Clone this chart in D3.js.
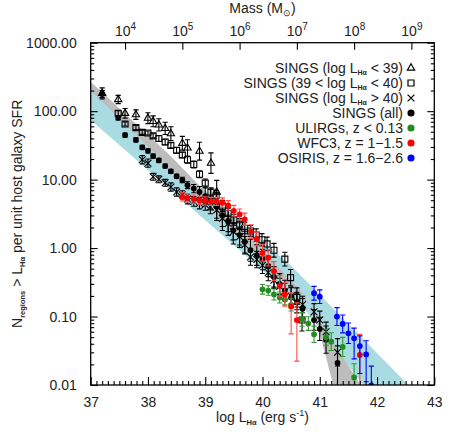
<!DOCTYPE html>
<html>
<head>
<meta charset="utf-8">
<script src="https://cdn.jsdelivr.net/npm/d3@7"></script>
<style>
  body { margin: 0; background: #fff; }
  svg text { font-family: "Liberation Sans", Arial, sans-serif; fill: #222; }
</style>
</head>
<body>
<svg width="458" height="432"></svg>
<script>
// data: [log L_Ha, N, err up (dex), err down (dex)]
const singsLow = [
  [37.20, 182, 0.08, 0.08], [37.48, 148, 0.06, 0.06], [37.60, 93, 0.07, 0.07],
  [37.79, 89, 0.07, 0.07], [38.00, 79, 0.08, 0.08], [38.09, 71, 0.08, 0.08],
  [38.19, 63, 0.09, 0.09], [38.30, 56, 0.09, 0.09], [38.40, 47, 0.1, 0.1],
  [38.60, 34, 0.1, 0.1], [38.69, 29, 0.12, 0.12], [38.90, 26, 0.13, 0.13],
  [39.10, 17.4, 0.15, 0.15], [39.20, 6.6, 0.17, 0.17]
];
const singsMid = [
  [37.48, 93, 0.04, 0.04], [37.60, 65, 0.03, 0.03], [37.79, 57.5, 0.03, 0.03],
  [37.90, 49, 0.03, 0.03], [38.00, 48, 0.03, 0.03], [38.09, 43.6, 0.03, 0.03],
  [38.19, 39.8, 0.04, 0.04], [38.30, 35.5, 0.04, 0.04], [38.40, 31.6, 0.04, 0.04],
  [38.50, 26.9, 0.04, 0.04], [38.60, 22.9, 0.04, 0.04], [38.69, 19.5, 0.05, 0.05],
  [38.80, 16.6, 0.05, 0.05], [38.90, 12.0, 0.05, 0.05], [39.00, 8.9, 0.06, 0.06],
  [39.10, 6.6, 0.06, 0.06], [39.19, 5.9, 0.07, 0.07], [39.30, 4.1, 0.08, 0.08],
  [39.40, 3.2, 0.08, 0.08], [39.50, 2.6, 0.08, 0.08], [39.60, 2.24, 0.08, 0.08],
  [39.69, 1.95, 0.08, 0.08], [39.79, 1.78, 0.08, 0.08], [39.89, 1.55, 0.09, 0.09],
  [39.99, 1.32, 0.09, 0.09], [40.08, 1.15, 0.1, 0.1], [40.20, 0.93, 0.1, 0.1],
  [40.39, 0.69, 0.1, 0.1], [40.49, 0.37, 0.12, 0.12], [40.60, 0.19, 0.14, 0.14],
  [40.69, 0.089, 0.16, 0.16]
];
const singsHigh = [
  [37.90, 19.5, 0.06, 0.06], [38.00, 17.4, 0.06, 0.06], [38.09, 11.0, 0.05, 0.05],
  [38.19, 10.1, 0.05, 0.05], [38.30, 9.0, 0.05, 0.05], [38.40, 7.8, 0.06, 0.06],
  [38.50, 6.6, 0.06, 0.06], [38.60, 6.0, 0.06, 0.06], [38.69, 5.2, 0.07, 0.07],
  [38.80, 4.8, 0.07, 0.07], [38.90, 4.5, 0.08, 0.08], [39.00, 4.3, 0.08, 0.08],
  [39.09, 4.0, 0.1, 0.1], [39.20, 3.6, 0.12, 0.12], [39.30, 2.72, 0.12, 0.12],
  [39.40, 2.29, 0.12, 0.12], [39.49, 1.74, 0.12, 0.12], [39.60, 1.46, 0.12, 0.12],
  [39.69, 1.12, 0.12, 0.12], [39.79, 0.74, 0.12, 0.12], [39.90, 0.68, 0.12, 0.12],
  [40.00, 0.56, 0.12, 0.12], [40.10, 0.44, 0.12, 0.12], [40.20, 0.34, 0.12, 0.12],
  [40.30, 0.275, 0.12, 0.12], [40.39, 0.23, 0.12, 0.12], [40.50, 0.20, 0.12, 0.12],
  [40.60, 0.166, 0.12, 0.12], [40.70, 0.15, 0.12, 0.12], [40.90, 0.117, 0.12, 0.12],
  [41.00, 0.089, 0.13, 0.13], [41.11, 0.060, 0.14, 0.14], [41.31, 0.030, 0.2, 0.2]
];
const singsAll = [
  [37.20, 178, 0.05, 0.05], [37.48, 80, 0.03, 0.03], [37.60, 44.7, 0.03, 0.03],
  [37.79, 38, 0.03, 0.03], [37.90, 29.5, 0.03, 0.03], [38.00, 26.3, 0.03, 0.03],
  [38.09, 22.1, 0.03, 0.03], [38.19, 19.1, 0.03, 0.03], [38.30, 15.8, 0.03, 0.03],
  [38.40, 13.2, 0.03, 0.03], [38.50, 11.2, 0.03, 0.03], [38.60, 9.9, 0.04, 0.04],
  [38.69, 8.3, 0.05, 0.05], [38.80, 7.4, 0.06, 0.06], [38.90, 6.6, 0.08, 0.08],
  [39.00, 5.75, 0.12, 0.12], [39.09, 5.1, 0.15, 0.15], [39.20, 4.0, 0.2, 0.2],
  [39.30, 3.0, 0.22, 0.22], [39.40, 2.43, 0.2, 0.2], [39.49, 1.82, 0.2, 0.2],
  [39.60, 1.55, 0.18, 0.18], [39.69, 1.24, 0.18, 0.18], [39.79, 0.93, 0.16, 0.16],
  [39.90, 0.79, 0.15, 0.15], [40.00, 0.68, 0.15, 0.15], [40.10, 0.54, 0.15, 0.15],
  [40.20, 0.38, 0.15, 0.15], [40.30, 0.30, 0.15, 0.15], [40.39, 0.24, 0.15, 0.15],
  [40.50, 0.19, 0.15, 0.15], [40.60, 0.16, 0.15, 0.15], [40.70, 0.13, 0.15, 0.15],
  [40.90, 0.089, 0.15, 0.15], [41.00, 0.066, 0.17, 0.17], [41.11, 0.046, 0.2, 0.2],
  [41.31, 0.021, 0.25, 0.35]
];
const ulirgs = [
  [40.00, 0.25, 0.07, 0.07], [40.10, 0.24, 0.07, 0.07], [40.20, 0.21, 0.08, 0.08],
  [40.30, 0.19, 0.08, 0.08], [40.39, 0.178, 0.08, 0.08], [40.50, 0.148, 0.09, 0.09],
  [40.69, 0.091, 0.1, 0.1], [40.80, 0.079, 0.1, 0.1], [40.90, 0.055, 0.12, 0.12],
  [41.11, 0.050, 0.12, 0.12], [41.20, 0.043, 0.13, 0.13], [41.40, 0.036, 0.14, 0.14],
  [41.60, 0.0129, 0.2, 0.25]
];
const wfc3 = [
  [38.60, 5.6, 0.06, 0.06], [38.69, 5.4, 0.06, 0.06], [38.80, 5.2, 0.06, 0.06],
  [38.90, 5.0, 0.06, 0.06], [39.00, 4.9, 0.06, 0.06], [39.10, 4.8, 0.06, 0.06],
  [39.20, 4.8, 0.06, 0.06], [39.30, 4.6, 0.07, 0.07], [39.40, 4.2, 0.07, 0.07],
  [39.50, 3.5, 0.08, 0.08], [39.60, 3.1, 0.08, 0.08], [39.69, 2.63, 0.09, 0.09],
  [39.80, 1.74, 0.1, 0.1], [39.90, 1.36, 0.1, 0.1], [40.00, 0.85, 0.12, 0.12],
  [40.10, 0.72, 0.12, 0.12], [40.20, 0.46, 0.14, 0.14], [40.30, 0.28, 0.15, 0.15],
  [40.39, 0.21, 0.17, 0.17], [40.50, 0.14, 0.2, 0.4], [40.60, 0.089, 0.25, 0.6],
  [41.70, 0.0275, 0.3, 0.6]
];
const osiris = [
  [40.90, 0.219, 0.1, 0.1], [41.00, 0.195, 0.1, 0.1], [41.30, 0.10, 0.13, 0.13],
  [41.40, 0.078, 0.13, 0.13], [41.50, 0.057, 0.15, 0.15], [41.60, 0.048, 0.15, 0.3],
  [41.70, 0.037, 0.15, 0.4], [41.81, 0.028, 0.2, 0.4], [41.90, 0.0099, 0.28, 0.2]
];

// fit bands: [log L_Ha, log N] along each edge
const greyUpper = [[37, 2.43], [38.4, 1.34], [40.65, -0.60], [41.1, -1.2], [41.73, -2.02]];
const greyLower = [[37, 2.30], [38.4, 1.15], [40.89, -0.89], [41.03, -1.34], [41.24, -2.02]];
const cyanUpper = [[37, 2.31], [40.55, -0.30], [42.57, -2.02]];
const cyanLower = [[37, 1.87], [40.65, -0.80], [41.78, -2.02]];

const yTicks = [0.01, 0.1, 1, 10, 100, 1000];
const xTicks = [37, 38, 39, 40, 41, 42, 43];
const massTicks = [4, 5, 6, 7, 8, 9];

const svg = d3.select("svg");
const box = {left: 90.7, right: 434.3, top: 42.7, bottom: 385};
const x = d3.scaleLinear().domain([37, 43]).range([box.left, box.right]);
const y = d3.scaleLog().domain([0.01, 1000]).range([box.bottom, box.top]);
const xm = d3.scaleLinear().domain([3.4, 9.4]).range([box.left, box.right]);

svg.append("clipPath").attr("id", "plot")
  .append("rect").attr("x", box.left).attr("y", box.top)
  .attr("width", box.right - box.left).attr("height", box.bottom - box.top);

const plot = svg.append("g").attr("clip-path", "url(#plot)");

// bands
const line = d3.line().x(d => x(d[0])).y(d => y(Math.pow(10, d[1])));
function band(upper, lower, color) {
  const pts = upper.concat(lower.slice().reverse());
  plot.append("path").attr("d", line(pts) + "Z").attr("fill", color);
}
band(cyanUpper, cyanLower, "#a9dbe3");
band(greyUpper, greyLower, "#bdbdbd");

// error bars + symbols
function series(data, color, symbol, barColor) {
  const g = plot.append("g");
  const cap = 2.6;
  data.forEach(d => {
    const xx = x(d[0]);
    const yHi = y(d[1] * Math.pow(10, d[2]));
    const yLo = y(d[1] / Math.pow(10, d[3]));
    g.append("line").attr("x1", xx).attr("x2", xx).attr("y1", yHi).attr("y2", yLo)
      .attr("stroke", barColor).attr("stroke-width", 1.1);
    [yHi, yLo].forEach(yy => g.append("line")
      .attr("x1", xx - cap).attr("x2", xx + cap).attr("y1", yy).attr("y2", yy)
      .attr("stroke", barColor).attr("stroke-width", 1.1));
  });
  g.selectAll(".pt").data(data).enter().append("path")
    .attr("class", "pt")
    .attr("transform", d => `translate(${x(d[0])},${y(d[1])})`)
    .attr("d", symbol.path)
    .attr("fill", symbol.filled ? color : "none")
    .attr("stroke", color)
    .attr("stroke-width", symbol.filled ? 0 : 1.1);
}
const triangle = { path: d3.symbol(d3.symbolTriangle2, 38)(), filled: false };
const square = { path: d3.symbol(d3.symbolSquare2, 46)(), filled: false };
const cross = { path: d3.symbol(d3.symbolTimes, 32)(), filled: false };
const dot = { path: d3.symbol(d3.symbolCircle, 26)(), filled: true };

series(singsLow, "#000", triangle, "#000");
series(singsMid, "#000", square, "#000");
series(singsHigh, "#000", cross, "#000");
series(singsAll, "#000", dot, "#000");
series(ulirgs, "#228b22", dot, "#2e9a2e");
series(wfc3, "#ff0000", dot, "#ff4d4d");
series(osiris, "#0000ff", dot, "#0000ff");

// frame
svg.append("rect").attr("x", box.left).attr("y", box.top)
  .attr("width", box.right - box.left).attr("height", box.bottom - box.top)
  .attr("fill", "none").attr("stroke", "#000").attr("stroke-width", 1.3);

// log minor ticks
const minorY = [];
for (let e = -2; e < 3; e++) for (let m = 2; m < 10; m++) minorY.push(m * Math.pow(10, e));
const minorX = d3.range(370, 431).filter(v => v % 10 !== 0).map(v => v / 10);

function tickAxis(axis, tx) {
  const g = svg.append("g").attr("transform", tx).call(axis);
  g.select(".domain").remove();
  g.selectAll("line").attr("stroke", "#000").attr("stroke-width", 1.1);
  return g;
}

// left
const la = tickAxis(d3.axisLeft(y).tickValues(yTicks).tickSize(-7).tickPadding(14)
  .tickFormat(d3.format(".2f")), `translate(${box.left},0)`);
la.selectAll("text").attr("font-size", 14).attr("fill", "#222");
tickAxis(d3.axisLeft(y).tickValues(minorY).tickSize(-3.5).tickFormat(""), `translate(${box.left},0)`);
// right
tickAxis(d3.axisRight(y).tickValues(yTicks).tickSize(-7).tickFormat(""), `translate(${box.right},0)`);
tickAxis(d3.axisRight(y).tickValues(minorY).tickSize(-3.5).tickFormat(""), `translate(${box.right},0)`);
// bottom
const ba = tickAxis(d3.axisBottom(x).tickValues(xTicks).tickSize(-8).tickPadding(12)
  .tickFormat(d3.format("d")), `translate(0,${box.bottom})`);
ba.selectAll("text").attr("font-size", 14).attr("fill", "#222");
tickAxis(d3.axisBottom(x).tickValues(minorX).tickSize(-4).tickFormat(""), `translate(0,${box.bottom})`);
// top (mass)
const ta = tickAxis(d3.axisTop(xm).tickValues(massTicks).tickSize(-7)
  .tickFormat(""), `translate(0,${box.top})`);
ta.selectAll(".tick").append("text")
  .attr("y", -7).attr("text-anchor", "middle").attr("font-size", 14)
  .each(function(d) {
    const t = d3.select(this);
    t.append("tspan").text("10");
    t.append("tspan").attr("dy", -6).attr("font-size", 10).text(d);
  });

// titles
const xt = svg.append("text").attr("x", (box.left + box.right) / 2).attr("y", 422)
  .attr("text-anchor", "middle").attr("font-size", 14);
xt.append("tspan").text("log L");
xt.append("tspan").attr("dy", 2.5).attr("font-size", 7.5).attr("font-weight", "bold").text("Hα");
xt.append("tspan").attr("dy", -2.5).text(" (erg s");
xt.append("tspan").attr("dy", -6).attr("font-size", 9).text("-1");
xt.append("tspan").attr("dy", 6).text(")");

const tt = svg.append("text").attr("x", (box.left + box.right) / 2).attr("y", 13)
  .attr("text-anchor", "middle").attr("font-size", 14);
tt.append("tspan").text("Mass (M");
tt.append("tspan").attr("dy", 3).attr("font-size", 9).text("⊙");
tt.append("tspan").attr("dy", -3).text(")");

const yt = svg.append("text")
  .attr("transform", `translate(22,${(box.top + box.bottom) / 2}) rotate(-90)`)
  .attr("text-anchor", "middle").attr("font-size", 14);
yt.append("tspan").text("N");
yt.append("tspan").attr("dy", 2.5).attr("font-size", 7.5).attr("font-weight", "bold").text("regions");
yt.append("tspan").attr("dy", -2.5).text(" > L");
yt.append("tspan").attr("dy", 2.5).attr("font-size", 7.5).attr("font-weight", "bold").text("Hα");
yt.append("tspan").attr("dy", -2.5).text(" per unit host galaxy SFR");

// legend
const legendLabels = [
  ["SINGS (log L", "Hα", " < 39)"],
  ["SINGS (39 < log L", "Hα", " < 40)"],
  ["SINGS (log L", "Hα", " > 40)"],
  ["SINGS (all)"],
  ["ULIRGs, z < 0.13"],
  ["WFC3, z = 1−1.5"],
  ["OSIRIS, z = 1.6−2.6"]
];
const legendSymbols = [triangle, square, cross, dot, dot, dot, dot];
const legendColors = ["#000", "#000", "#000", "#000", "#228b22", "#ff0000", "#0000ff"];
const lg = svg.append("g");
legendLabels.forEach((lab, i) => {
  const yy = 68 + i * 15;
  const t = lg.append("text").attr("x", 403).attr("y", yy + 5)
    .attr("text-anchor", "end").attr("font-size", 14);
  t.append("tspan").text(lab[0]);
  if (lab.length > 1) {
    t.append("tspan").attr("dy", 2).attr("font-size", 7).attr("font-weight", "bold").text(lab[1]);
    t.append("tspan").attr("dy", -2).text(lab[2]);
  }
  const s = legendSymbols[i];
  lg.append("path").attr("transform", `translate(411,${yy})`)
    .attr("d", s === dot ? d3.symbol(d3.symbolCircle, 40)() : s.path)
    .attr("fill", s.filled ? legendColors[i] : "none")
    .attr("stroke", legendColors[i])
    .attr("stroke-width", s.filled ? 0 : 1.2);
});
</script>
</body>
</html>
